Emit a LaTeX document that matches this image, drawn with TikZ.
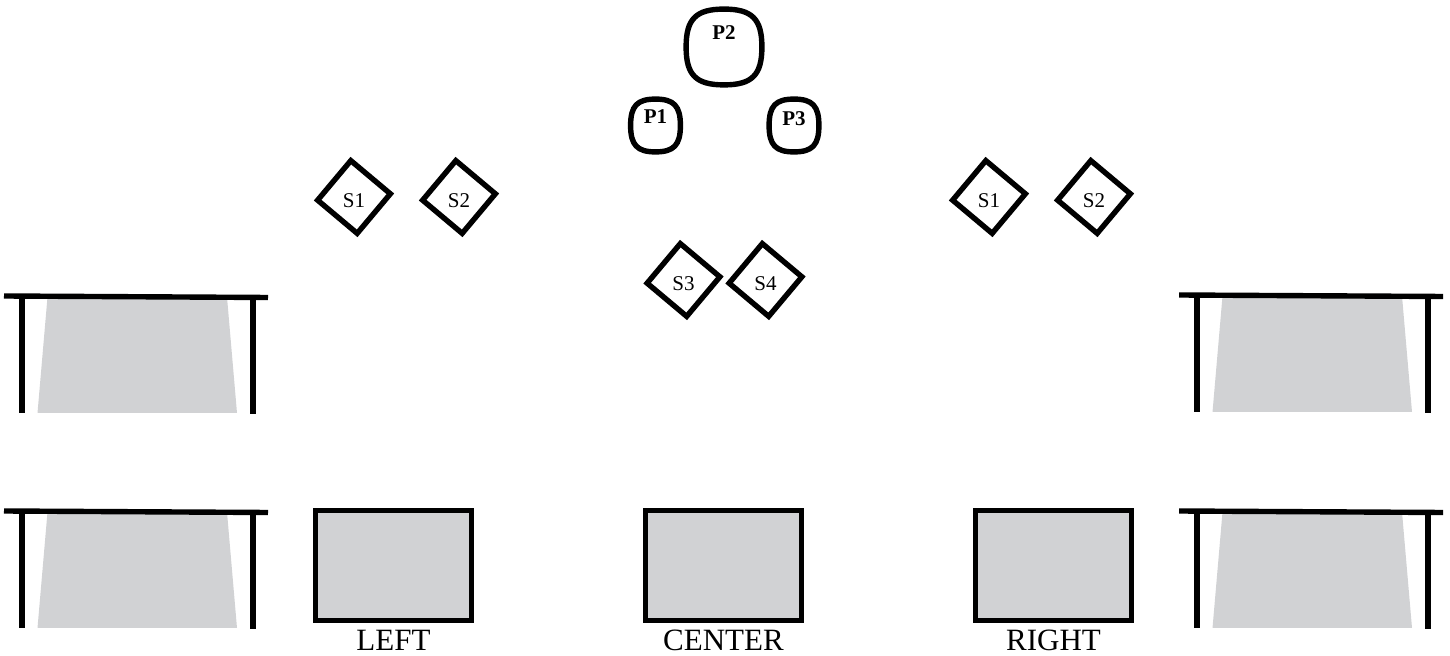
\documentclass[tikz,border=0pt]{standalone}
\usepackage{fontspec}
\setmainfont{Liberation Serif}
\usetikzlibrary{positioning,shapes.geometric,calc}
\definecolor{screengray}{HTML}{D1D2D4}
\tikzset{
	speaker/.style={regular polygon,regular polygon sides=4,shape border rotate=50,draw,line width=2.7pt,minimum size=36.5pt,inner sep=0pt,text height=10.5pt,font=\fontsize{10.5}{12}\selectfont},
	person/.style={rectangle,inner sep=0pt,font=\fontsize{10.5}{12}\selectfont\bfseries},
	screen/.style={rectangle,draw,line width=2.7pt,fill=screengray,minimum width=78pt,minimum height=55pt,inner sep=0pt},
	caption/.style={inner sep=0pt,font=\fontsize{15.5}{18}\selectfont},
	wall/.style={line width=2.7pt}
}
\begin{document}
\begin{tikzpicture}[x=0.5pt,y=-0.5pt]
\useasboundingbox (0,0) rectangle (1450,656);

% side tables
\foreach \dx/\dy in {0/0,0/215,1175/-1,1175/215}{
	\begin{scope}[shift={(\dx,\dy)}]
	\fill[screengray] (47.5,297) -- (227,297) -- (237,413) -- (37.5,413) -- cycle;
	\draw[wall] (4,296) -- (268,297.5);
	\draw[wall] (22,296) -- (22,413);
	\draw[wall] (253,297.5) -- (253,414);
	\end{scope}
}

% screens
\node[screen] (left) at (393.5,565.5) {};
\node[screen] (center) at (723.5,565.5) {};
\node[screen] (right) at (1053.5,565.5) {};
\node[caption] (leftlabel) at (393.5,640) {LEFT};
\node[caption] (centerlabel) at (723.5,640) {CENTER};
\node[caption] (rightlabel) at (1053.5,640) {RIGHT};

% speakers
\node[speaker] (ls1) at (354,197) {S1};
\node[speaker] (ls2) at (459,197) {S2};
\node[speaker] (s3) at (683.5,280) {S3};
\node[speaker] (s4) at (765.5,280) {S4};
\node[speaker] (rs1) at (989,197) {S1};
\node[speaker] (rs2) at (1094,197) {S2};

% persons
\node[person,minimum width=37.5pt,minimum height=37.5pt,text depth=14pt] (p2) at (724,47) {P2};
\node[person,minimum width=24.5pt,minimum height=26pt,text depth=8.5pt] (p1) at (655.5,125.5) {P1};
\node[person,minimum width=24.5pt,minimum height=26pt,text depth=7pt] (p3) at (794,125.5) {P3};
\foreach \p in {p1,p2,p3}
	\draw[line width=2.7pt] (\p.east)
	.. controls ($(\p.east)!0.74!(\p.north east)$) and ($(\p.north)!0.74!(\p.north east)$) .. (\p.north)
	.. controls ($(\p.north)!0.74!(\p.north west)$) and ($(\p.west)!0.74!(\p.north west)$) .. (\p.west)
	.. controls ($(\p.west)!0.74!(\p.south west)$) and ($(\p.south)!0.74!(\p.south west)$) .. (\p.south)
	.. controls ($(\p.south)!0.74!(\p.south east)$) and ($(\p.east)!0.74!(\p.south east)$) .. cycle;
\end{tikzpicture}
\end{document}
